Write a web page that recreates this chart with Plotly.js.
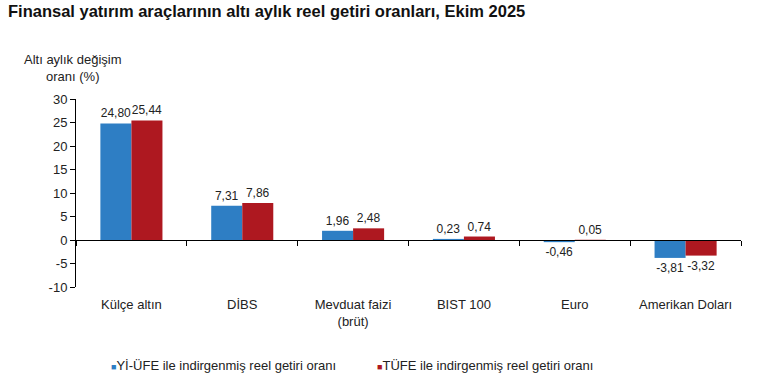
<!DOCTYPE html>
<html><head><meta charset="utf-8">
<script src="https://cdn.plot.ly/plotly-3.0.1.min.js"></script>
<style>html,body{margin:0;padding:0;background:#fff}#chart{width:761px;height:392px}</style>
</head><body><div id="chart"></div>
<script>
const categories = ["Külçe altın", "DİBS", "Mevduat faizi<br>(brüt)", "BIST 100", "Euro", "Amerikan Doları"];
const yiUfe = [24.80, 7.31, 1.96, 0.23, -0.46, -3.81];
const tufe = [25.44, 7.86, 2.48, 0.74, 0.05, -3.32];
const seriesNames = ["Yİ-ÜFE ile indirgenmiş reel getiri oranı", "TÜFE ile indirgenmiş reel getiri oranı"];
const seriesColors = ['#2E7EC4', '#AE1820'];
const yTicks = [-10, -5, 0, 5, 10, 15, 20, 25, 30];

const fmt = v => v.toFixed(2).replace('.', ',');
const font = "Liberation Sans, Arial, sans-serif";

const traces = [
  {type:'bar', name: seriesNames[0], x: categories, y: yiUfe, marker:{color:seriesColors[0]},
   text: yiUfe.map(fmt), textposition:'outside', constraintext:'none', cliponaxis:false, textfont:{size:12,color:'#222'}, showlegend:false},
  {type:'bar', name: seriesNames[1], x: categories, y: tufe, marker:{color:seriesColors[1]},
   text: tufe.map(fmt), textposition:'outside', constraintext:'none', cliponaxis:false, textfont:{size:12,color:'#222'}, showlegend:false},
  {type:'bar', x: categories, y: categories.map(()=>null), xaxis:'x2', showlegend:false, hoverinfo:'skip'}
];

const legendX = [0.0496, 0.4496];
const legendAnn = seriesNames.map((n,i)=>({
  text:'<span style="color:'+seriesColors[i]+';font-size:9px">■</span>'+n,
  xref:'paper', yref:'paper', x:legendX[i], y:-0.42, xanchor:'left', yanchor:'middle',
  showarrow:false, font:{size:13,color:'#222'}
}));

const layout = {
  width:761, height:392,
  margin:{l:76, r:20, t:99, b:105},
  paper_bgcolor:'#fff', plot_bgcolor:'#fff',
  font:{family:font, size:13, color:'#222'},
  title:{text:'<b>Finansal yatırım araçlarının altı aylık reel getiri oranları, Ekim 2025</b>',
    x:0.0105, xanchor:'left', y:0.972, yanchor:'middle', font:{size:16.5, color:'#111', family:font}},
  barmode:'group', bargap:0.44, bargroupgap:0,
  xaxis:{type:'category', showline:false, ticks:'', showgrid:false, zeroline:false,
    tickfont:{size:13, color:'#222'}, ticklabelstandoff:8, fixedrange:true},
  xaxis2:{type:'category', overlaying:'x', anchor:'free', position:0.25, showline:true, linecolor:'#000', linewidth:1,
    ticks:'outside', tickson:'boundaries', ticklen:5, tickcolor:'#000', showticklabels:false, showgrid:false, zeroline:false, matches:'x'},
  yaxis:{range:[-10,30], tickvals:yTicks, ticktext:yTicks.map(String), showline:true, linecolor:'#000', linewidth:1,
    ticks:'outside', ticklen:5, tickcolor:'#000', showgrid:false, zeroline:false, tickfont:{size:13,color:'#222'}},
  showlegend:false,
  annotations:[{text:'Altı aylık değişim<br>oranı (%)', xref:'paper', yref:'paper', x:-0.0045, y:1.165, xanchor:'center', yanchor:'middle',
    showarrow:false, font:{size:13,color:'#222'}}].concat(legendAnn)
};
Plotly.newPlot('chart', traces, layout, {displayModeBar:false, staticPlot:true});
</script></body></html>
